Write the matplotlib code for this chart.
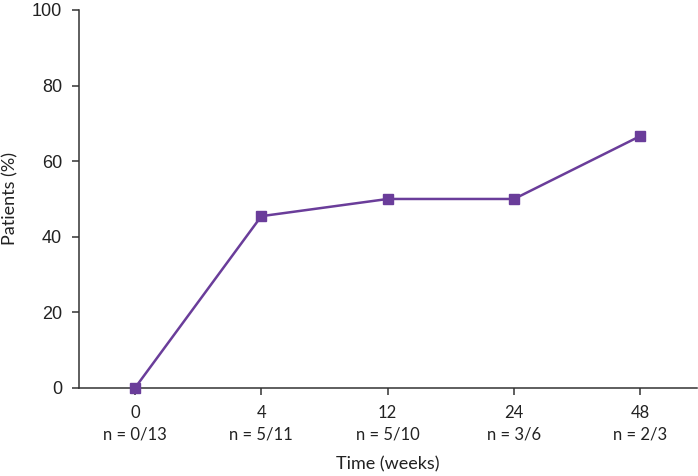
import matplotlib.pyplot as plt

# data
weeks = ["0", "4", "12", "24", "48"]
counts = ["n = 0/13", "n = 5/11", "n = 5/10", "n = 3/6", "n = 2/3"]
percent = [0, 45.45, 50, 50, 66.67]

line_color = "#6a3d9a"

fig = plt.figure(figsize=(6.98, 4.76), dpi=100)
ax = fig.add_axes([0.113, 0.185, 0.886, 0.794])

x = list(range(len(weeks)))
ax.plot(x, percent, color=line_color, linewidth=1.8, marker="s",
        markersize=6.5, clip_on=False, zorder=3)

ax.set_xlim(-0.444, 4.45)
ax.set_ylim(0, 100)
ax.set_yticks([0, 20, 40, 60, 80, 100])
ax.set_xticks(x)
ax.set_xticklabels([w + "\n" + c for w, c in zip(weeks, counts)],
                   family="Lato", fontsize=12, linespacing=1.45)
for lab in ax.get_yticklabels():
    lab.set_family("Liberation Sans")
    lab.set_fontsize(13)

ax.spines["top"].set_visible(False)
ax.spines["right"].set_visible(False)
for s in ["left", "bottom"]:
    ax.spines[s].set_color("#333333")
    ax.spines[s].set_linewidth(1.1)
ax.tick_params(axis="both", direction="out", length=5, width=1.1,
               color="#333333", labelcolor="#222222")
ax.tick_params(axis="y", pad=7)
ax.tick_params(axis="x", pad=7)

ax.set_xlabel("Time (weeks)", family="Lato", fontsize=13, color="#222222")
ax.set_ylabel("Patients (%)", family="Lato", fontsize=13, color="#222222")
ax.yaxis.set_label_coords(-0.097, 0.5)
ax.xaxis.set_label_coords(0.5, -0.18)

fig.savefig("out.png", dpi=100)
